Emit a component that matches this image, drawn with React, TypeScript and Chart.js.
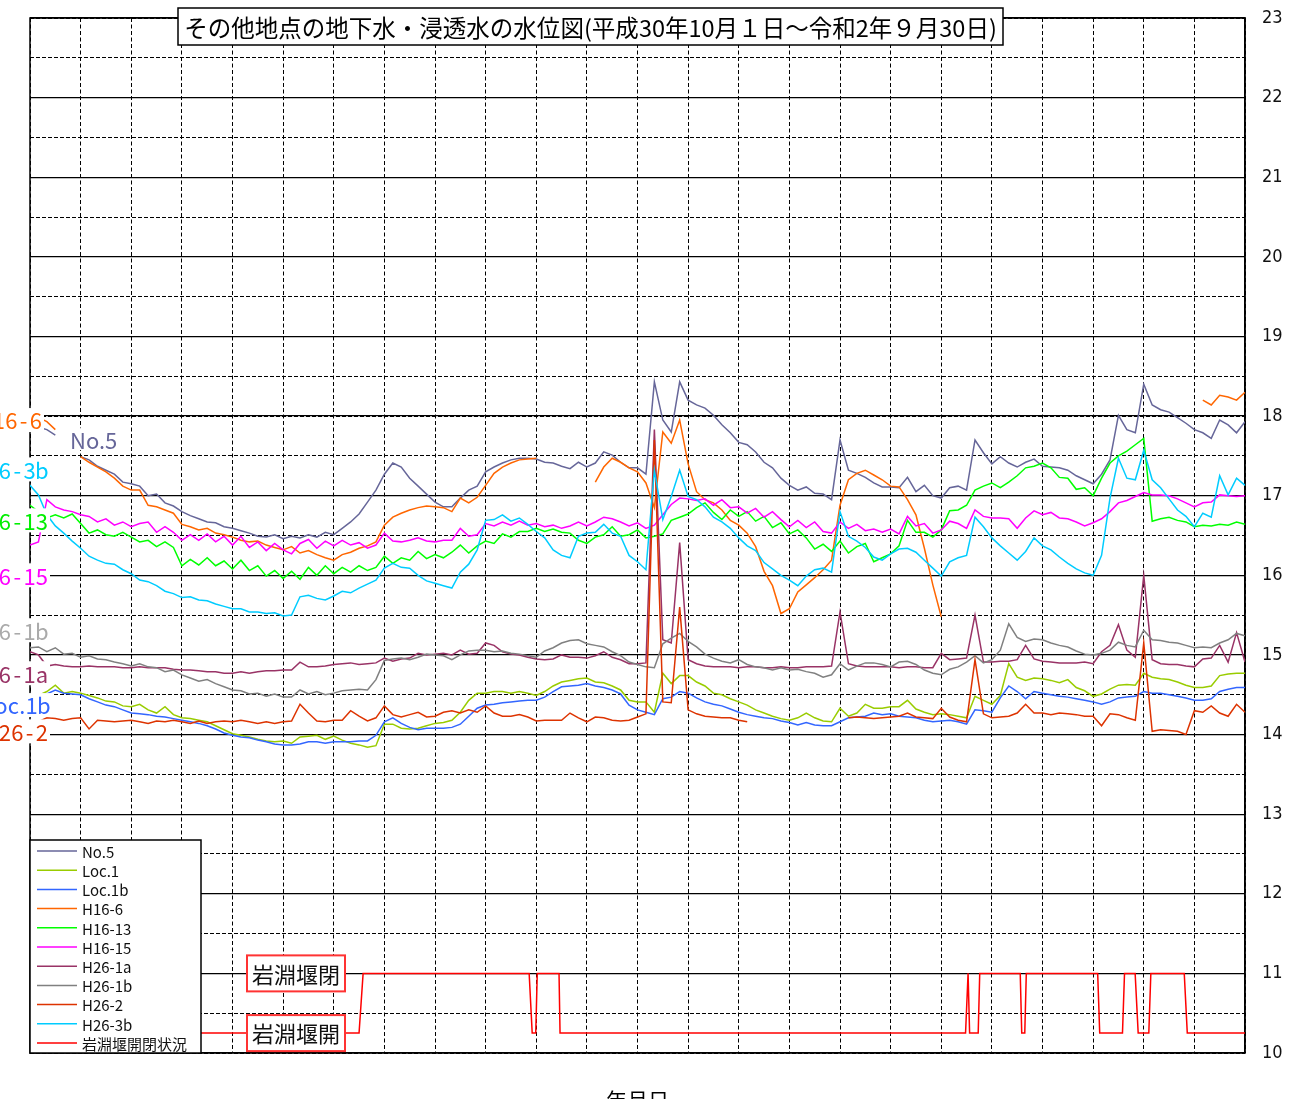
import React, { useEffect, useRef } from "react";
import { Chart, registerables } from "chart.js";

Chart.register(...registerables);

// ---- axis setup (x in months from 2018-10-01, one sample every 1/6 month) ----
const STEP = 1 / 6;
const X_MAX = 24;
const Y_MIN = 10;
const Y_MAX = 23;

const TITLE = "その他地点の地下水・浸透水の水位図(平成30年10月１日～令和2年９月30日)";
const X_TITLE = "年月日";

const NAMES = ["No.5", "Loc.1", "Loc.1b", "H16-6", "H16-13", "H16-15", "H26-1a", "H26-1b", "H26-2", "H26-3b"];
const WEIR_NAME = "岩淵堰開閉状況";

const NO5 = [
  17.90, 17.86, 17.83, 17.76, null, null, 17.49, 17.45, 17.37, 17.32,
  17.27, 17.17, 17.15, 17.12, 17.00, 17.02, 16.91, 16.87, 16.80, 16.75,
  16.71, 16.67, 16.66, 16.61, 16.59, 16.56, 16.53, 16.49, 16.48, 16.51,
  16.46, 16.49, 16.47, 16.51, 16.48, 16.54, 16.51, 16.59, 16.67, 16.77,
  16.92, 17.07, 17.27, 17.41, 17.36, 17.22, 17.12, 17.02, 16.92, 16.86,
  16.86, 16.97, 17.07, 17.12, 17.30, 17.36, 17.41, 17.45, 17.47, 17.47,
  17.46, 17.42, 17.41, 17.37, 17.34, 17.42, 17.36, 17.41, 17.55, 17.51,
  17.42, 17.35, 17.35, 17.27, 18.43, 17.95, 17.80, 18.43, 18.20, 18.14,
  18.10, 18.01, 17.89, 17.79, 17.67, 17.64, 17.55, 17.42, 17.35, 17.22,
  17.13, 17.07, 17.11, 17.03, 17.02, 16.95, 17.70, 17.32, 17.28, 17.23,
  17.16, 17.11, 17.11, 17.10, 17.23, 17.05, 17.13, 17.00, 16.97, 17.10,
  17.12, 17.07, 17.70, 17.54, 17.40, 17.49, 17.41, 17.36, 17.42, 17.46,
  17.37, 17.36, 17.35, 17.32, 17.25, 17.20, 17.15, 17.27, 17.45, 18.01,
  17.83, 17.79, 18.40, 18.14, 18.08, 18.05, 17.98, 17.91, 17.83, 17.79,
  17.72, 17.95, 17.89, 17.79, 17.93,
];

const LOC1 = [
  14.49, 14.49, 14.54, 14.62, 14.52, 14.54, 14.52, 14.49, 14.46, 14.42,
  14.41, 14.36, 14.35, 14.38, 14.31, 14.27, 14.35, 14.25, 14.21, 14.20,
  14.18, 14.16, 14.11, 14.06, 14.01, 13.99, 13.97, 13.94, 13.92, 13.91,
  13.92, 13.89, 13.97, 13.98, 13.99, 13.94, 13.98, 13.93, 13.89, 13.87,
  13.84, 13.86, 14.13, 14.13, 14.08, 14.07, 14.08, 14.11, 14.14, 14.15,
  14.18, 14.28, 14.43, 14.52, 14.52, 14.54, 14.54, 14.52, 14.54, 14.52,
  14.49, 14.54, 14.61, 14.66, 14.68, 14.70, 14.71, 14.66, 14.65, 14.61,
  14.56, 14.43, 14.41, 14.41, 14.28, 14.77, 14.64, 14.74, 14.74, 14.66,
  14.61, 14.52, 14.50, 14.45, 14.41, 14.37, 14.31, 14.27, 14.23, 14.20,
  14.18, 14.21, 14.27, 14.21, 14.17, 14.16, 14.33, 14.23, 14.27, 14.38,
  14.33, 14.33, 14.35, 14.35, 14.43, 14.32, 14.28, 14.25, 14.26, 14.25,
  14.23, 14.21, 14.48, 14.43, 14.38, 14.49, 14.89, 14.72, 14.68, 14.71,
  14.70, 14.68, 14.65, 14.69, 14.59, 14.55, 14.48, 14.51, 14.57, 14.62,
  14.63, 14.62, 14.77, 14.72, 14.70, 14.69, 14.66, 14.62, 14.59, 14.59,
  14.61, 14.74, 14.76, 14.77, 14.77,
];

const LOC1B = [
  14.49, 14.49, 14.51, 14.56, 14.52, 14.51, 14.50, 14.45, 14.41, 14.37,
  14.35, 14.31, 14.27, 14.26, 14.25, 14.23, 14.22, 14.20, 14.18, 14.16,
  14.14, 14.11, 14.07, 14.02, 13.99, 13.97, 13.96, 13.93, 13.91, 13.88,
  13.87, 13.87, 13.88, 13.91, 13.91, 13.89, 13.91, 13.91, 13.91, 13.92,
  13.92, 13.99, 14.16, 14.21, 14.14, 14.09, 14.06, 14.08, 14.08, 14.08,
  14.09, 14.13, 14.23, 14.33, 14.37, 14.38, 14.40, 14.41, 14.42, 14.43,
  14.43, 14.47, 14.54, 14.60, 14.61, 14.62, 14.64, 14.61, 14.59, 14.56,
  14.51, 14.37, 14.31, 14.28, 14.25, 14.45, 14.47, 14.54, 14.52, 14.46,
  14.41, 14.38, 14.36, 14.32, 14.28, 14.25, 14.23, 14.21, 14.20, 14.17,
  14.15, 14.12, 14.15, 14.12, 14.11, 14.11, 14.16, 14.21, 14.22, 14.23,
  14.27, 14.25, 14.26, 14.23, 14.22, 14.21, 14.18, 14.16, 14.17, 14.18,
  14.16, 14.13, 14.31, 14.30, 14.28, 14.46, 14.61, 14.54, 14.45, 14.54,
  14.52, 14.50, 14.48, 14.47, 14.45, 14.43, 14.41, 14.38, 14.41, 14.46,
  14.47, 14.48, 14.54, 14.52, 14.52, 14.50, 14.48, 14.46, 14.43, 14.43,
  14.45, 14.54, 14.57, 14.59, 14.59,
];

const H16_6 = [
  18.03, 17.98, 17.93, 17.83, null, null, 17.49, 17.42, 17.36, 17.30,
  17.22, 17.12, 17.07, 17.07, 16.88, 16.86, 16.82, 16.78, 16.64, 16.61,
  16.57, 16.59, 16.53, 16.51, 16.48, 16.44, 16.42, 16.43, 16.38, 16.35,
  16.32, 16.36, 16.28, 16.31, 16.26, 16.22, 16.19, 16.26, 16.29, 16.34,
  16.37, 16.42, 16.63, 16.73, 16.78, 16.82, 16.85, 16.87, 16.86, 16.85,
  16.80, 16.97, 16.91, 16.98, 17.13, 17.28, 17.36, 17.41, 17.45, 17.46,
  17.47, null, null, null, null, null, null, 17.17, 17.36, 17.47,
  17.42, 17.35, 17.30, 17.16, 16.85, 17.80, 17.66, 17.95, 17.40, 17.05,
  16.95, 16.91, 16.82, 16.69, 16.63, 16.53, 16.36, 16.05, 15.87, 15.52,
  15.58, 15.79, 15.88, 15.97, 16.07, 16.19, 16.88, 17.20, 17.28, 17.32,
  17.26, 17.20, 17.12, 17.11, 16.95, 16.76, 16.34, 15.88, 15.48, null,
  null, null, null, null, null, null, null, null, null, null,
  null, null, null, null, null, null, null, null, null, null,
  null, null, null, null, null, null, null, null, null, 18.20,
  18.14, 18.26, 18.24, 18.20, 18.30,
];

const H16_13 = [
  16.88, 16.80, 16.72, 16.76, 16.72, 16.77, 16.65, 16.53, 16.57, 16.51,
  16.49, 16.54, 16.48, 16.42, 16.44, 16.36, 16.42, 16.35, 16.12, 16.20,
  16.13, 16.22, 16.12, 16.18, 16.08, 16.19, 16.06, 16.12, 15.99, 16.06,
  15.96, 16.05, 15.95, 16.10, 16.00, 16.12, 16.02, 16.10, 16.04, 16.12,
  16.06, 16.10, 16.24, 16.15, 16.22, 16.19, 16.30, 16.21, 16.26, 16.22,
  16.29, 16.38, 16.28, 16.37, 16.43, 16.40, 16.52, 16.48, 16.55, 16.55,
  16.59, 16.55, 16.58, 16.54, 16.53, 16.44, 16.40, 16.48, 16.51, 16.61,
  16.49, 16.51, 16.57, 16.47, 16.49, 16.52, 16.69, 16.73, 16.77, 16.85,
  16.91, 16.79, 16.70, 16.82, 16.74, 16.80, 16.68, 16.74, 16.60, 16.66,
  16.52, 16.57, 16.47, 16.33, 16.39, 16.30, 16.43, 16.28, 16.36, 16.40,
  16.17, 16.22, 16.27, 16.37, 16.69, 16.54, 16.54, 16.48, 16.57, 16.81,
  16.82, 16.88, 17.07, 17.12, 17.16, 17.10, 17.17, 17.25, 17.35, 17.37,
  17.41, 17.35, 17.23, 17.22, 17.08, 17.10, 17.00, 17.22, 17.41, 17.50,
  17.56, 17.64, 17.72, 16.68, 16.71, 16.73, 16.69, 16.67, 16.61, 16.63,
  16.62, 16.64, 16.63, 16.67, 16.64,
];

const H16_15 = [
  16.38, 16.42, 16.95, 16.86, 16.82, 16.80, 16.76, 16.74, 16.67, 16.71,
  16.63, 16.67, 16.61, 16.65, 16.67, 16.54, 16.61, 16.54, 16.44, 16.51,
  16.44, 16.52, 16.42, 16.49, 16.38, 16.49, 16.35, 16.42, 16.31, 16.40,
  16.32, 16.27, 16.40, 16.45, 16.34, 16.43, 16.37, 16.44, 16.38, 16.41,
  16.34, 16.38, 16.53, 16.43, 16.42, 16.44, 16.47, 16.43, 16.42, 16.44,
  16.44, 16.59, 16.49, 16.51, 16.65, 16.62, 16.67, 16.63, 16.68, 16.63,
  16.65, 16.61, 16.63, 16.59, 16.62, 16.67, 16.62, 16.67, 16.73, 16.71,
  16.67, 16.62, 16.66, 16.59, 16.63, 16.76, 16.89, 16.97, 16.96, 16.94,
  16.96, 16.88, 16.95, 16.85, 16.86, 16.78, 16.84, 16.73, 16.80, 16.70,
  16.61, 16.69, 16.60, 16.67, 16.55, 16.53, 16.67, 16.59, 16.64, 16.56,
  16.58, 16.54, 16.58, 16.52, 16.74, 16.62, 16.65, 16.53, 16.57, 16.68,
  16.65, 16.59, 16.82, 16.74, 16.72, 16.72, 16.71, 16.59, 16.72, 16.81,
  16.76, 16.79, 16.72, 16.71, 16.67, 16.62, 16.66, 16.71, 16.80, 16.91,
  16.94, 16.99, 17.04, 17.01, 17.01, 17.00, 16.96, 16.91, 16.86, 16.91,
  16.92, 17.01, 17.00, 16.99, 17.00,
];

const H26_1A = [
  15.04, 15.00, 14.86, 14.88, 14.86, 14.85, 14.85, 14.86, 14.85, 14.85,
  14.85, 14.84, 14.84, 14.85, 14.84, 14.84, 14.84, 14.82, 14.81, 14.81,
  14.80, 14.79, 14.79, 14.77, 14.77, 14.79, 14.77, 14.79, 14.80, 14.80,
  14.81, 14.81, 14.91, 14.85, 14.85, 14.86, 14.88, 14.89, 14.90, 14.88,
  14.89, 14.90, 14.96, 14.92, 14.95, 14.96, 15.02, 15.00, 15.01, 15.02,
  15.00, 15.06, 15.01, 15.02, 15.15, 15.12, 15.04, 15.01, 15.00, 14.97,
  14.95, 14.94, 14.95, 15.00, 14.97, 14.97, 14.96, 14.99, 15.04, 14.97,
  14.94, 14.89, 14.89, 14.90, 17.83, 15.19, 15.15, 16.41, 14.94, 14.89,
  14.86, 14.85, 14.85, 14.85, 14.84, 14.85, 14.85, 14.84, 14.84, 14.85,
  14.84, 14.84, 14.85, 14.85, 14.85, 14.86, 15.54, 14.89, 14.86, 14.85,
  14.85, 14.85, 14.85, 14.84, 14.85, 14.85, 14.84, 14.84, 15.02, 14.94,
  14.95, 14.96, 15.50, 14.91, 14.91, 14.92, 14.92, 14.94, 15.12, 14.95,
  14.92, 14.91, 14.90, 14.90, 14.90, 14.91, 14.89, 15.04, 15.12, 15.38,
  15.06, 14.97, 16.00, 14.94, 14.89, 14.88, 14.88, 14.86, 14.85, 14.95,
  14.96, 15.12, 14.91, 15.28, 14.91,
];

const H26_1B = [
  15.09, 15.10, 15.04, 15.09, 15.01, 15.02, 14.97, 14.99, 14.95, 14.94,
  14.91, 14.89, 14.86, 14.89, 14.85, 14.84, 14.79, 14.81, 14.75, 14.71,
  14.67, 14.69, 14.64, 14.60, 14.56, 14.55, 14.51, 14.52, 14.48, 14.51,
  14.47, 14.47, 14.56, 14.51, 14.54, 14.50, 14.52, 14.55, 14.56, 14.57,
  14.56, 14.69, 14.93, 14.95, 14.96, 14.94, 14.97, 15.01, 15.00, 14.99,
  14.94, 15.00, 15.05, 15.06, 15.06, 15.04, 15.05, 15.02, 15.01, 14.99,
  14.97, 15.05, 15.09, 15.15, 15.18, 15.19, 15.14, 15.12, 15.10, 15.04,
  14.99, 14.91, 14.88, 14.85, 14.84, 15.14, 15.21, 15.27, 15.17, 15.10,
  15.01, 14.96, 14.92, 14.90, 14.94, 14.88, 14.85, 14.84, 14.81, 14.84,
  14.81, 14.82, 14.79, 14.77, 14.72, 14.75, 14.89, 14.81, 14.86, 14.90,
  14.90, 14.88, 14.85, 14.91, 14.92, 14.88, 14.81, 14.77, 14.75, 14.82,
  14.85, 14.91, 14.99, 14.90, 14.94, 15.06, 15.39, 15.22, 15.17, 15.20,
  15.19, 15.15, 15.12, 15.10, 15.05, 15.01, 15.00, 15.02, 15.06, 15.16,
  15.12, 15.10, 15.31, 15.19, 15.18, 15.16, 15.15, 15.12, 15.09, 15.10,
  15.09, 15.15, 15.19, 15.27, 15.24,
];

const H26_2 = [
  14.16, 14.16, 14.21, 14.20, 14.18, 14.20, 14.21, 14.07, 14.18, 14.17,
  14.16, 14.17, 14.18, 14.16, 14.14, 14.17, 14.16, 14.18, 14.16, 14.14,
  14.17, 14.14, 14.16, 14.17, 14.16, 14.18, 14.16, 14.14, 14.16, 14.14,
  14.16, 14.17, 14.38, 14.27, 14.17, 14.16, 14.18, 14.18, 14.30, 14.23,
  14.17, 14.21, 14.36, 14.25, 14.22, 14.25, 14.28, 14.22, 14.23, 14.28,
  14.30, 14.27, 14.31, 14.28, 14.36, 14.27, 14.23, 14.23, 14.25, 14.22,
  14.17, 14.18, 14.18, 14.18, 14.27, 14.21, 14.16, 14.22, 14.21, 14.18,
  14.17, 14.18, 14.22, 14.26, 17.70, 14.41, 14.40, 15.60, 14.31, 14.26,
  14.23, 14.22, 14.21, 14.21, 14.18, 14.16, null, null, null, null,
  null, null, null, null, null, null, null, 14.21, 14.22, 14.21,
  14.20, 14.21, 14.22, 14.23, 14.27, 14.22, 14.21, 14.20, 14.33, 14.22,
  14.18, 14.16, 14.94, 14.26, 14.21, 14.22, 14.23, 14.27, 14.38, 14.27,
  14.27, 14.25, 14.27, 14.26, 14.25, 14.23, 14.23, 14.11, 14.26, 14.25,
  14.21, 14.18, 15.15, 14.04, 14.06, 14.05, 14.04, 14.00, 14.30, 14.28,
  14.36, 14.27, 14.23, 14.38, 14.28,
];

const H26_3B = [
  17.13, 17.01, 16.76, 16.62, 16.53, 16.43, 16.34, 16.24, 16.19, 16.15,
  16.14, 16.07, 16.02, 15.94, 15.92, 15.87, 15.80, 15.77, 15.72, 15.73,
  15.69, 15.68, 15.64, 15.61, 15.58, 15.58, 15.54, 15.54, 15.52, 15.53,
  15.49, 15.50, 15.73, 15.75, 15.71, 15.69, 15.74, 15.80, 15.78, 15.84,
  15.89, 15.94, 16.09, 16.15, 16.10, 16.09, 16.00, 15.93, 15.90, 15.87,
  15.84, 16.04, 16.14, 16.32, 16.69, 16.70, 16.76, 16.68, 16.72, 16.64,
  16.55, 16.47, 16.32, 16.25, 16.22, 16.49, 16.53, 16.54, 16.64, 16.53,
  16.49, 16.25, 16.17, 16.07, 17.32, 16.70, 16.99, 17.32, 16.99, 16.95,
  16.86, 16.73, 16.67, 16.59, 16.47, 16.37, 16.31, 16.16, 16.08, 16.00,
  15.94, 15.87, 15.99, 16.07, 16.09, 16.04, 16.80, 16.49, 16.43, 16.35,
  16.23, 16.19, 16.27, 16.33, 16.34, 16.29, 16.19, 16.09, 15.99, 16.17,
  16.22, 16.25, 16.73, 16.61, 16.47, 16.37, 16.28, 16.19, 16.30, 16.47,
  16.37, 16.32, 16.23, 16.15, 16.08, 16.03, 16.00, 16.25, 16.97, 17.47,
  17.22, 17.20, 17.57, 17.20, 17.10, 16.96, 16.82, 16.74, 16.61, 16.78,
  16.73, 17.25, 17.01, 17.22, 17.13,
];

// weir open/close status: change points (month, level)
const WEIR_X = [
  0, 6.50, 6.58, 9.86, 9.92, 9.99, 10.02, 10.45, 10.47, 18.48, 18.53, 18.56,
  18.73, 18.76, 19.56, 19.59, 19.65, 19.68, 21.09, 21.13, 21.58, 21.62,
  21.83, 21.89, 22.10, 22.14, 22.80, 22.86, 24,
];
const WEIR_Y = [
  10.25, 10.25, 11, 11, 10.25, 10.25, 11, 11, 10.25, 10.25, 11, 10.25,
  10.25, 11, 11, 10.25, 10.25, 11, 11, 10.25, 10.25, 11,
  11, 10.25, 10.25, 11, 11, 10.25, 10.25,
];

const COLORS = ["#666699", "#99cc00", "#3366ff", "#ff6600", "#00ff00", "#ff00ff", "#993366", "#808080", "#dd3300", "#00ccff"];
const WEIR_COLOR = "#ff0000";

// side labels (text, colour, anchor value on the level axis, right edge px)
const SIDE_LABELS = [
  { text: "H16-6", color: "#ff6600", v: 17.95, right: 42 },
  { text: "H26-3b", color: "#00ccff", v: 17.33, right: 48 },
  { text: "H16-13", color: "#00ee00", v: 16.69, right: 48 },
  { text: "H16-15", color: "#ff00ff", v: 16.00, right: 48 },
  { text: "H26-1b", color: "#aaaaaa", v: 15.31, right: 48 },
  { text: "H26-1a", color: "#993366", v: 14.77, right: 48 },
  { text: "Loc.1b", color: "#3366ff", v: 14.37, right: 50 },
  { text: "H26-2", color: "#dd3300", v: 14.04, right: 48 },
];

const JP = "'Noto Sans CJK JP', 'Noto Sans', sans-serif";
const NARROW = "'Liberation Sans Narrow', 'DejaVu Sans Condensed', 'Roboto', sans-serif";

// draws text right-aligned with fixed half-width cells (Gothic style)
function drawCells(ctx: CanvasRenderingContext2D, text: string, right: number, y: number) {
  let x = right;
  ctx.textAlign = "center";
  for (let k = text.length - 1; k >= 0; k--) {
    const ch = text[k];
    const cw = ch === "." ? 6 : 12.3;
    ctx.fillText(ch, x - cw / 2, y);
    x -= cw;
  }
}

const overlay = {
  id: "overlay",
  beforeDatasetsDraw(chart: any) {
    const { ctx, chartArea: a } = chart;
    ctx.save();
    ctx.strokeStyle = "#000";
    ctx.lineWidth = 1.5;
    ctx.strokeRect(a.left, a.top, a.right - a.left, a.bottom - a.top);
    ctx.restore();
  },
  afterDatasetsDraw(chart: any) {
    const { ctx, chartArea: a } = chart;
    const ys = chart.scales.y;
    ctx.save();

    // left-edge series labels
    ctx.font = `22px ${JP}`;
    ctx.textBaseline = "middle";
    for (const l of SIDE_LABELS) {
      const y = ys.getPixelForValue(l.v);
      ctx.fillStyle = "#fff";
      ctx.fillRect(0, y - 12, l.right + 2, 24);
      ctx.fillStyle = l.color;
      drawCells(ctx, l.text, l.right, y + 1);
    }
    // No.5 label
    {
      const y = ys.getPixelForValue(17.71);
      ctx.font = `22px ${JP}`;
      ctx.textAlign = "left";
      ctx.fillStyle = "#fff";
      ctx.fillRect(67, y - 11, 50, 22);
      ctx.fillStyle = "#666699";
      ctx.fillText("No.5", 70, y + 1);
    }

    // weir status boxes
    const boxes = [
      { t: "岩淵堰閉", v: 11 },
      { t: "岩淵堰開", v: 10.25 },
    ];
    ctx.font = `22px ${JP}`;
    ctx.textAlign = "center";
    for (const b of boxes) {
      const y = ys.getPixelForValue(b.v);
      ctx.fillStyle = "#fff";
      ctx.fillRect(247, y - 18, 98, 36);
      ctx.strokeStyle = "#ff3333";
      ctx.lineWidth = 2;
      ctx.strokeRect(247, y - 18, 98, 36);
      ctx.fillStyle = "#111";
      ctx.fillText(b.t, 296, y + 1);
    }

    // legend
    const lx = a.left, lyTop = 840, lw = 171, lh = a.bottom - 840;
    ctx.fillStyle = "#fff";
    ctx.fillRect(lx, lyTop, lw, lh);
    ctx.strokeStyle = "#000";
    ctx.lineWidth = 1.5;
    ctx.strokeRect(lx, lyTop, lw, lh);
    ctx.font = `15px ${JP}`;
    ctx.textAlign = "left";
    chart.data.datasets.forEach((ds: any, k: number) => {
      const y = 851 + k * 19.2;
      ctx.strokeStyle = ds.borderColor;
      ctx.lineWidth = 1.5;
      ctx.beginPath();
      ctx.moveTo(37, y);
      ctx.lineTo(77, y);
      ctx.stroke();
      ctx.fillStyle = "#111";
      ctx.fillText(ds.label, 82, y + 1);
    });

    // title box
    ctx.fillStyle = "#fff";
    ctx.fillRect(178, 8, 825, 37);
    ctx.strokeStyle = "#000";
    ctx.lineWidth = 1.5;
    ctx.strokeRect(178, 8, 825, 37);
    let fs = 22;
    ctx.font = `${fs}px ${JP}`;
    const w = ctx.measureText(TITLE).width;
    fs = fs * 813 / w;
    ctx.font = `${fs.toFixed(2)}px ${JP}`;
    ctx.fillStyle = "#000";
    ctx.textAlign = "center";
    ctx.fillText(TITLE, 590.5, 28);

    // x title
    ctx.font = `21px ${JP}`;
    ctx.fillText(X_TITLE, (a.left + a.right) / 2, 1100);
    ctx.restore();
  },
};

export default function App() {
  const ref = useRef<HTMLCanvasElement | null>(null);

  useEffect(() => {
    if (!ref.current) return;
    const seriesValues = [NO5, LOC1, LOC1B, H16_6, H16_13, H16_15, H26_1A, H26_1B, H26_2, H26_3B];
    const datasets: any[] = seriesValues.map((vals, k) => ({
      label: NAMES[k],
      data: vals.map((v, i) => ({ x: i * STEP, y: v })),
      borderColor: COLORS[k],
      backgroundColor: COLORS[k],
      borderWidth: 1.5,
      pointRadius: 0,
      tension: 0,
      spanGaps: false,
      order: 20 - k,
      yAxisID: "y",
    }));
    datasets.push({
      label: WEIR_NAME,
      data: WEIR_X.map((x, i) => ({ x, y: WEIR_Y[i] })),
      borderColor: WEIR_COLOR,
      backgroundColor: WEIR_COLOR,
      borderWidth: 1.5,
      pointRadius: 0,
      tension: 0,
      order: 0,
      yAxisID: "y",
    });

    Chart.defaults.font.family = JP;
    const chart = new Chart(ref.current, {
      type: "line",
      data: { datasets },
      plugins: [overlay],
      options: {
        responsive: false,
        animation: false,
        devicePixelRatio: 1,
        layout: { padding: { left: 30, top: 18, right: 0, bottom: 0 } },
        plugins: { legend: { display: false }, tooltip: { enabled: false } },
        scales: {
          x: {
            type: "linear",
            min: 0,
            max: X_MAX,
            ticks: { display: false, stepSize: 1 },
            grid: { color: "#000", lineWidth: 1, drawTicks: false },
            border: { display: false, dash: [4, 2.5] },
            afterFit: (s: any) => { s.height = 67; s.paddingLeft = 0; s.paddingRight = 0; },
          },
          y2: {
            type: "linear",
            position: "left",
            min: Y_MIN,
            max: Y_MAX,
            ticks: { display: false, stepSize: 0.5 },
            grid: { color: "#000", lineWidth: 1, drawTicks: false },
            border: { display: false, dash: [4, 2] },
            afterFit: (s: any) => { s.width = 0; s.paddingTop = 0; s.paddingBottom = 0; },
          },
          y: {
            type: "linear",
            position: "right",
            min: Y_MIN,
            max: Y_MAX,
            ticks: {
              stepSize: 1,
              padding: 17,
              color: "#111",
              font: { family: NARROW, size: 18 },
            },
            grid: { color: "#000", lineWidth: 1.3, drawTicks: false },
            border: { display: true, color: "#000", width: 1.5 },
            afterFit: (s: any) => { s.width = 59; s.paddingTop = 0; s.paddingBottom = 0; },
          },
        },
      } as any,
    });
    return () => chart.destroy();
  }, []);

  return (
    <div style={{ position: "absolute", left: 0, top: 0, width: 1304, height: 1099, overflow: "hidden", background: "#fff" }}>
      <canvas ref={ref} width={1304} height={1120} style={{ display: "block", width: 1304, height: 1120 }} />
    </div>
  );
}
